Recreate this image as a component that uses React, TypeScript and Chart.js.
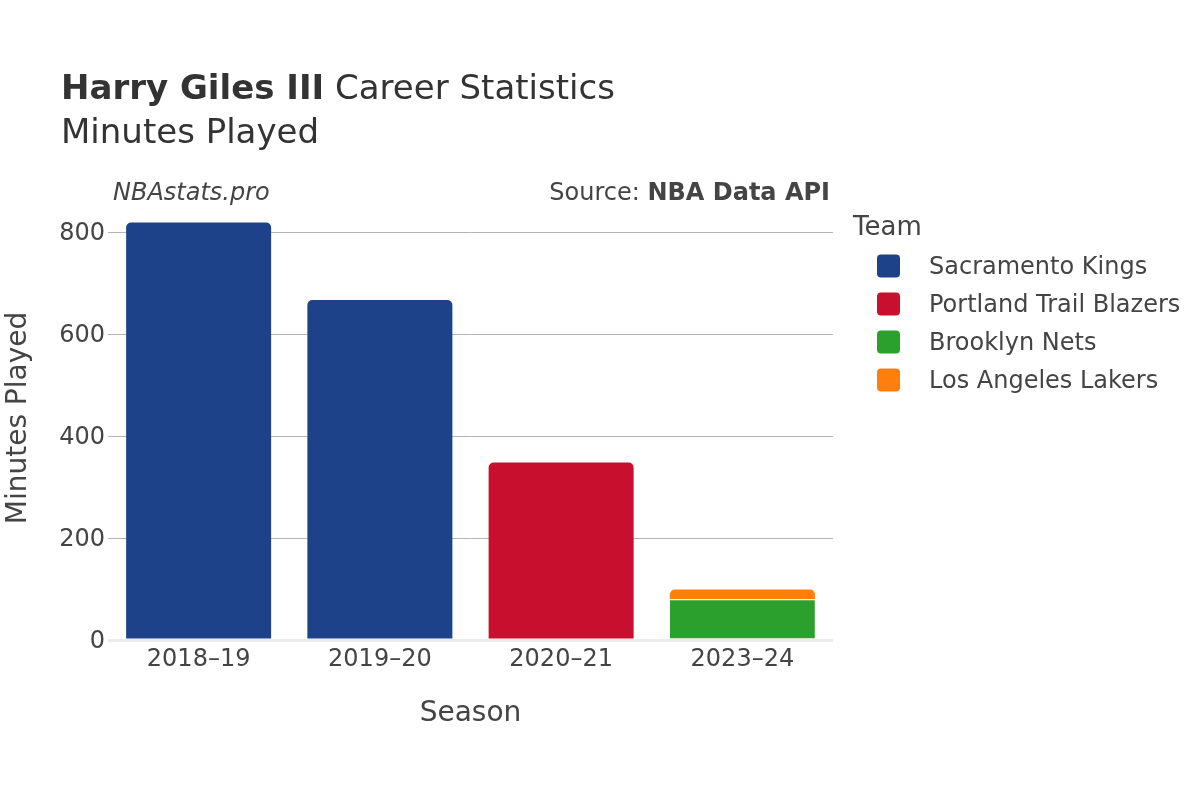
import React, { useEffect, useRef } from "react";
import { Chart, registerables } from "chart.js";

Chart.register(...registerables);

const seasons = ["2018–19", "2019–20", "2020–21", "2023–24"];
const kingsMinutes = [819, 667, null, null];
const blazersMinutes = [null, null, 348, null];
const netsMinutes = [null, null, null, 80];
const lakersMinutes = [null, null, null, 19];
const teams = ["Sacramento Kings", "Portland Trail Blazers", "Brooklyn Nets", "Los Angeles Lakers"];
const teamColors = ["#1d4289", "#c8102e", "#2ca02c", "#ff7f0e"];
const yTicks = [0, 200, 400, 600, 800];

const FONT = "'DejaVu Sans', sans-serif";

const overlayPlugin = {
  id: "overlay",
  afterDraw(chart: any) {
    const ctx = chart.ctx as CanvasRenderingContext2D;
    ctx.save();
    ctx.textBaseline = "middle";
    // Title
    ctx.fillStyle = "#333";
    ctx.textAlign = "left";
    ctx.font = `bold 34px ${FONT}`;
    const t1 = "Harry Giles III";
    ctx.fillText(t1, 61, 90);
    const w1 = ctx.measureText(t1).width;
    ctx.font = `34px ${FONT}`;
    ctx.fillText(" Career Statistics", 61 + w1, 90);
    ctx.fillText("Minutes Played", 61, 134);

    // annotations
    ctx.fillStyle = "#444";
    ctx.font = `italic 24px ${FONT}`;
    ctx.fillText("NBAstats.pro", 113, 194);
    ctx.textAlign = "right";
    ctx.font = `bold 24px ${FONT}`;
    const src = "NBA Data API";
    ctx.fillText(src, 830, 194);
    const ws = ctx.measureText(src).width;
    ctx.font = `24px ${FONT}`;
    ctx.fillText("Source: ", 830 - ws, 194);

    // axis titles
    const area = chart.chartArea;
    ctx.textAlign = "center";
    ctx.font = `28px ${FONT}`;
    ctx.fillText("Season", (area.left + area.right) / 2, 714);
    ctx.save();
    ctx.translate(19, 418);
    ctx.rotate(-Math.PI / 2);
    ctx.fillText("Minutes Played", 0, 0);
    ctx.restore();

    // legend
    ctx.textAlign = "left";
    ctx.font = `26px ${FONT}`;
    ctx.fillText("Team", 853, 228);
    ctx.font = `24px ${FONT}`;
    teams.forEach((name, i) => {
      const cy = 266 + i * 38;
      ctx.fillStyle = teamColors[i];
      ctx.beginPath();
      (ctx as any).roundRect(877, cy - 11.5, 23, 23, 4);
      ctx.fill();
      ctx.fillStyle = "#444";
      ctx.fillText(name, 929, cy + 2);
    });
    ctx.restore();
  },
};

export default function App() {
  const ref = useRef<HTMLCanvasElement | null>(null);
  useEffect(() => {
    if (!ref.current) return;
    const radius = { topLeft: 5, topRight: 5, bottomLeft: 0, bottomRight: 0 };
    const series = [kingsMinutes, blazersMinutes, netsMinutes, lakersMinutes];
    const chart = new Chart(ref.current, {
      type: "bar",
      data: {
        labels: seasons,
        datasets: series.map((d, i) => ({
          label: teams[i],
          data: d,
          backgroundColor: teamColors[i],
          borderColor: "#ffffff",
          borderWidth: i === 2 ? { top: 1, left: 0, right: 0, bottom: 0 } : 0,
          borderRadius: i === 2 ? 0 : radius,
          borderSkipped: "start",
          barPercentage: 0.8,
          categoryPercentage: 1,
        })) as any,
      },
      options: {
        responsive: false,
        animation: false,
        devicePixelRatio: 1,
        layout: { padding: { top: 201, right: 367, left: 0, bottom: 0 } },
        plugins: { legend: { display: false }, tooltip: { enabled: false }, title: { display: false } },
        scales: {
          x: {
            stacked: true,
            grid: { display: false, drawTicks: false },
            border: { display: false },
            ticks: { color: "#444", font: { family: FONT, size: 24 }, padding: 5 },
            afterFit: (s: any) => { s.height = 160; },
          },
          y: {
            stacked: true,
            min: 0,
            max: 861,
            grid: {
              drawTicks: false,
              color: (c: any) => (c.tick && c.tick.value === 0 ? "#ebebeb" : "#b4b4b4"),
              lineWidth: (c: any) => (c.tick && c.tick.value === 0 ? 3 : 1),
            },
            border: { display: false },
            ticks: { color: "#444", font: { family: FONT, size: 24 }, padding: 3, includeBounds: false, stepSize: 200, labelOffset: 2 },
            afterBuildTicks: (s: any) => { s.ticks = yTicks.map((v) => ({ value: v })); },
            afterFit: (s: any) => { s.width = 108; },
          },
        },
      } as any,
      plugins: [overlayPlugin],
    });
    return () => chart.destroy();
  }, []);
  return (
    <div style={{ position: "fixed", left: 0, top: 0, width: 1200, height: 800, background: "#fff" }}>
      <canvas ref={ref} width={1200} height={800} style={{ width: 1200, height: 800 }} />
    </div>
  );
}
